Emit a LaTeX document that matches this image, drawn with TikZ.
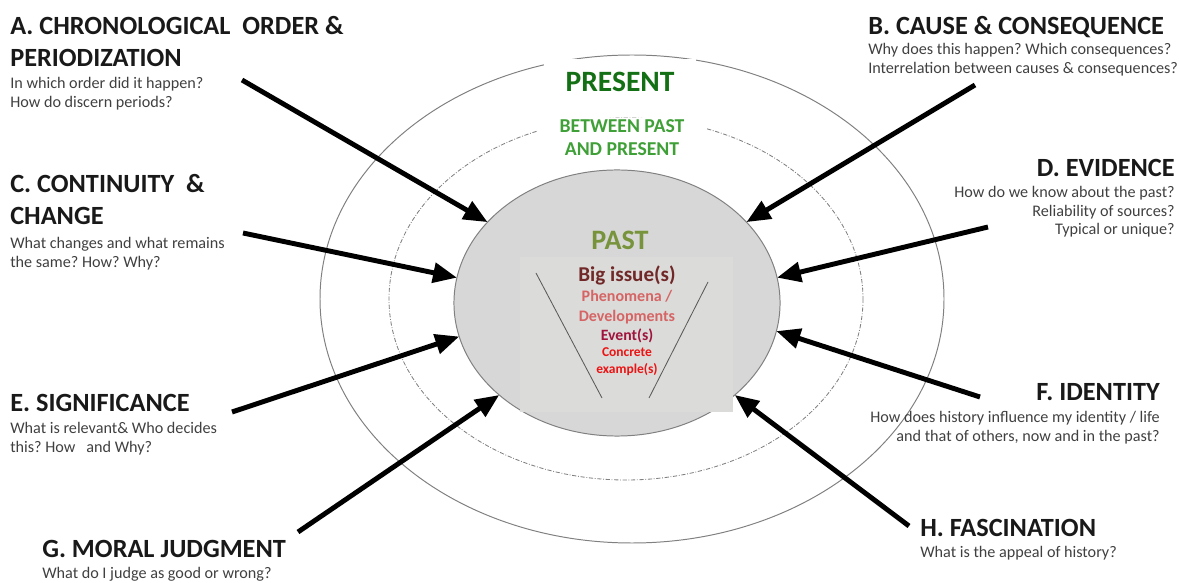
\documentclass[tikz,border=0pt]{standalone}
\usepackage{fontspec}
\setmainfont{Carlito}
\frenchspacing
\usetikzlibrary{arrows.meta,positioning,shapes.geometric}
\definecolor{present}{RGB}{20,112,20}
\definecolor{between}{RGB}{64,160,56}
\definecolor{pastgreen}{RGB}{119,147,60}
\definecolor{issue}{RGB}{112,40,40}
\definecolor{phenom}{RGB}{214,100,100}
\definecolor{event}{RGB}{160,20,60}
\definecolor{concrete}{RGB}{235,20,20}
\definecolor{pastfill}{RGB}{215,215,215}
\definecolor{innerfill}{RGB}{219,219,217}
\definecolor{ringgray}{RGB}{128,128,128}
\definecolor{subtext}{RGB}{64,64,64}
\tikzset{
  skill/.style={font=\fontsize{18.7}{22.5}\selectfont\bfseries, text=black!90, inner sep=0pt},
  question/.style={font=\fontsize{11.5}{13.2}\selectfont, text=subtext, inner sep=0pt},
  pointer/.style={line width=3.5pt, -{Triangle[length=17pt,width=14pt]}},
  ring/.style={draw=ringgray, line width=0.7pt},
}

\begin{document}
\begin{tikzpicture}[x=0.025cm, y=-0.025cm]
\useasboundingbox (0,0) rectangle (1180,583);

% rings
\draw[ring] (632,299) ellipse [x radius=312, y radius=244];
\draw[ring, line width=0.6pt, dash pattern=on 3pt off 1.2pt on 0.6pt off 1.2pt] (626,299) ellipse [x radius=237, y radius=181];
\node[fill=white, minimum width=3.8cm, minimum height=1.15cm, font=\fontsize{21}{24}\selectfont\bfseries, text=present] (present) at (620,82) {PRESENT};
\node[fill=white, align=center, inner sep=1pt, minimum width=4.2cm, font=\fontsize{14}{16.5}\selectfont\bfseries, text=between] (between) at (622,138) {BETWEEN PAST\\AND PRESENT};

% past
\node[ellipse, draw=ringgray, fill=pastfill, line width=0.7pt, minimum width=8.15cm, minimum height=6.65cm, inner sep=0pt, outer sep=0pt] (past) at (617,303) {};
\fill[innerfill] (520,257) rectangle (733,412);
\draw[ringgray!70!black, line width=0.6pt] (536,273) -- (602,398);
\draw[ringgray!70!black, line width=0.6pt] (708,282) -- (649,398);
\node[font=\fontsize{20}{24}\selectfont\bfseries, text=pastgreen, inner sep=0pt] (pastlabel) at (620,240) {PAST};
\node[font=\fontsize{15}{18}\selectfont\bfseries, text=issue, inner sep=0pt] (issue) at (627,275) {Big issue(s)};
\node[font=\fontsize{11.4}{14}\selectfont\bfseries, text=phenom, align=center, inner sep=0pt] (phenom) at (627,307) {Phenomena /\\Developments};
\node[font=\fontsize{11.2}{13}\selectfont\bfseries, text=event, inner sep=0pt] (event) at (627,336) {Event(s)};
\node[font=\fontsize{9.6}{12}\selectfont\bfseries, text=concrete, align=center, inner sep=0pt] (concrete) at (627,362) {Concrete\\example(s)};

% thinking concepts
\node[skill, align=left, anchor=north west] (chrono) at (10,16) {A. CHRONOLOGICAL\ \ ORDER \&\\PERIODIZATION};
\node[question, align=left, anchor=north west] (chronoq) at (10,77) {In which order did it happen?\\How do discern periods?};
\node[skill, align=left, anchor=north west] (cause) at (868,16) {B. CAUSE \& CONSEQUENCE};
\node[question, align=left, anchor=north west] (causeq) at (868,43) {Why does this happen? Which consequences?\\Interrelation between causes \& consequences?};
\node[skill, align=left, anchor=north west] (change) at (10,174) {C. CONTINUITY\ \ \&\\CHANGE};
\node[question, align=left, anchor=north west] (changeq) at (10,237) {What changes and what remains\\the same? How? Why?};
\node[skill, align=right, anchor=north east] (evidence) at (1175,159) {D. EVIDENCE};
\node[question, align=right, anchor=north east] (evidenceq) at (1175,186) {How do we know about the past?\\Reliability of sources?\\Typical or unique?};
\node[skill, align=left, anchor=north west] (signif) at (10,394) {E. SIGNIFICANCE};
\node[question, align=left, anchor=north west] (signifq) at (10,422) {What is relevant\& Who decides\\this? How\ \ \ and Why?};
\node[skill, align=right, anchor=north east] (identity) at (1160,383) {F. IDENTITY};
\node[question, align=right, anchor=north east] (identityq) at (1160,411) {How does history influence my identity / life\\and that of others, now and in the past?};
\node[skill, align=left, anchor=north west] (moral) at (42,540) {G. MORAL JUDGMENT};
\node[question, align=left, anchor=north west] (moralq) at (42,567) {What do I judge as good or wrong?};
\node[skill, align=left, anchor=north west] (fascin) at (920,519) {H. FASCINATION};
\node[question, align=left, anchor=north west] (fascinq) at (920,546) {What is the appeal of history?};

% arrows into the past
\coordinate (ta) at (242,80);
\coordinate (tb) at (975,85);
\coordinate (tc) at (243,233);
\coordinate (td) at (988,227);
\coordinate (te) at (232,412);
\coordinate (tf) at (980,397);
\coordinate (tg) at (298,532);
\coordinate (th) at (909,526);
\draw[pointer] (ta) -- (past.148);
\draw[pointer] (tb) -- (past.32);
\draw[pointer] (tc) -- (past.171);
\draw[pointer] (td) -- (past.9);
\draw[pointer] (te) -- (past.192);
\draw[pointer] (tf) -- (past.-10);
\draw[pointer] (tg) -- (past.218);
\draw[pointer] (th) -- (past.-38);
\end{tikzpicture}
\end{document}
